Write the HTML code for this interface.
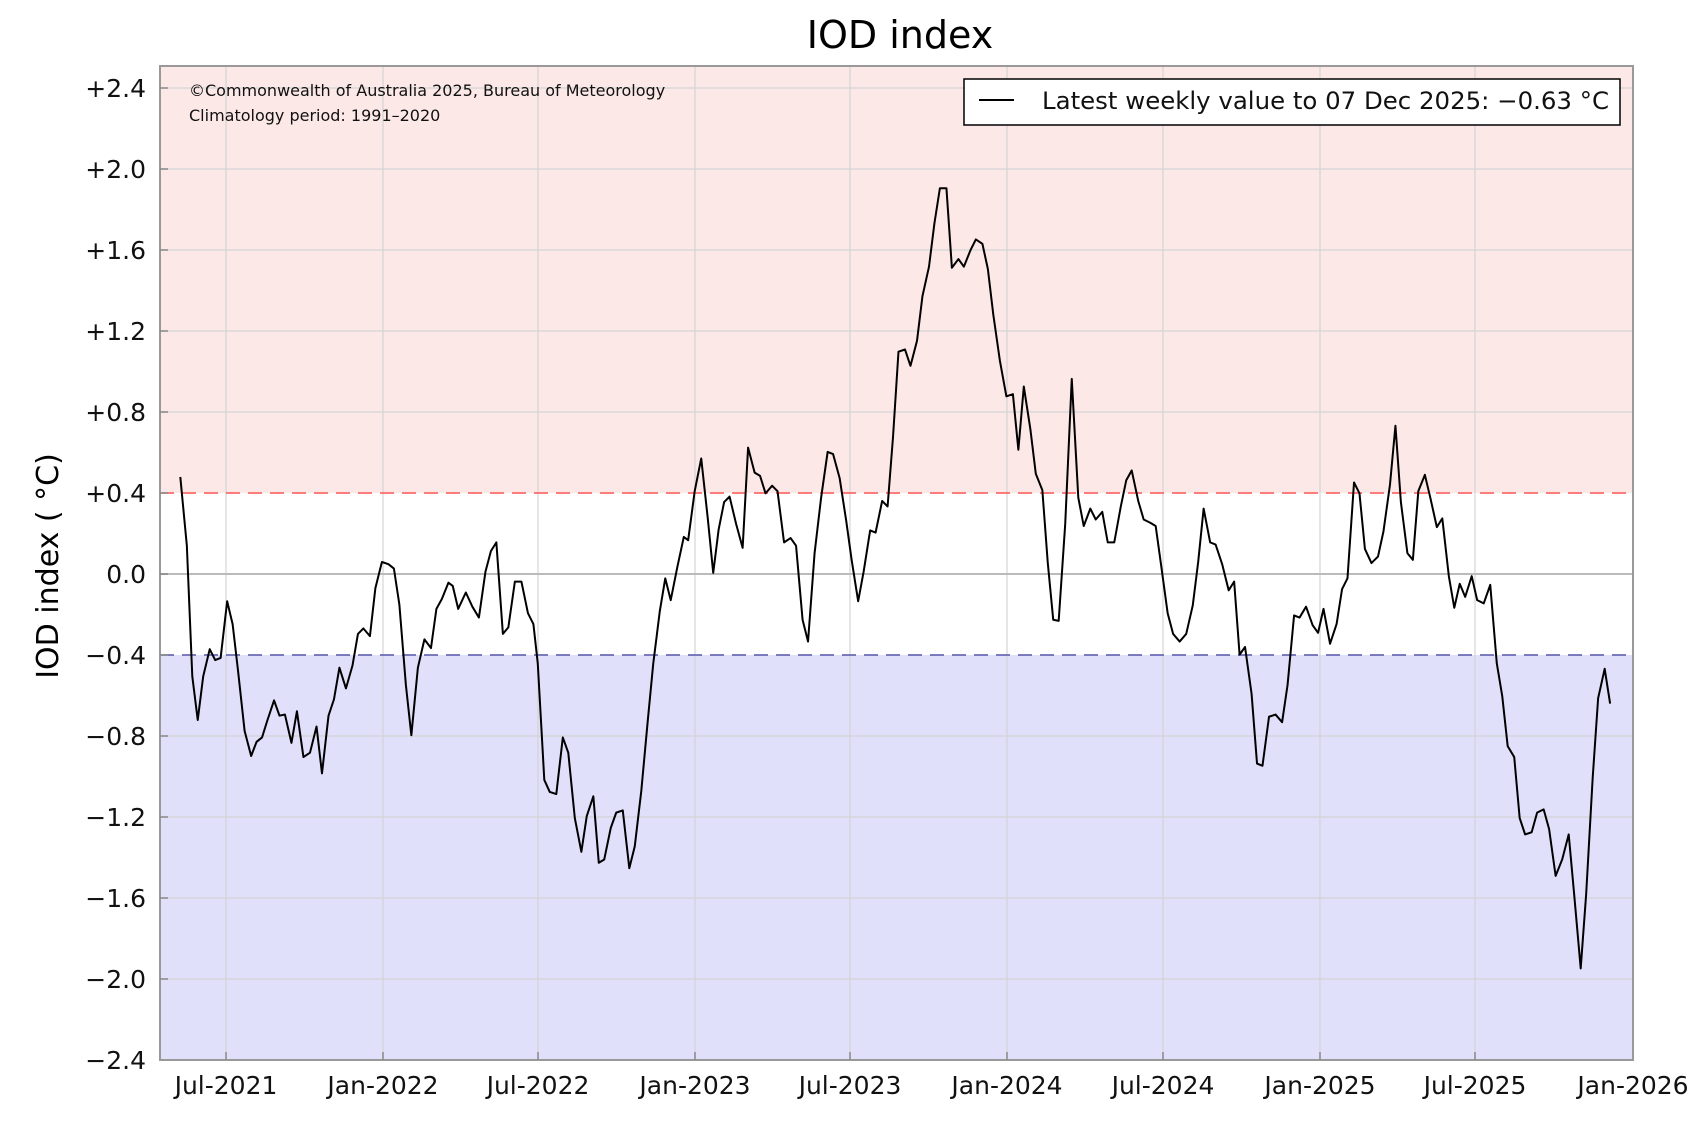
<!DOCTYPE html>
<html><head><meta charset="utf-8"><style>
html,body{margin:0;padding:0;background:#fff;}
svg{display:block;font-family:"DejaVu Sans","Liberation Sans",sans-serif;}
</style></head><body>
<svg width="1708" height="1140" viewBox="0 0 1708 1140" xmlns="http://www.w3.org/2000/svg">
<rect x="0" y="0" width="1708" height="1140" fill="#fff"/>
<rect x="160" y="66" width="1473" height="427" fill="#fde8e8"/>
<rect x="160" y="655" width="1473" height="405" fill="#e0e0fb"/>
<g stroke="#d4d4d4" stroke-width="1.2">
<line x1="226" y1="66" x2="226" y2="1060"/><line x1="383" y1="66" x2="383" y2="1060"/>
<line x1="538" y1="66" x2="538" y2="1060"/><line x1="695" y1="66" x2="695" y2="1060"/>
<line x1="850" y1="66" x2="850" y2="1060"/><line x1="1007" y1="66" x2="1007" y2="1060"/>
<line x1="1163" y1="66" x2="1163" y2="1060"/><line x1="1320" y1="66" x2="1320" y2="1060"/>
<line x1="1475" y1="66" x2="1475" y2="1060"/>
<line x1="160" y1="88" x2="1633" y2="88"/><line x1="160" y1="169" x2="1633" y2="169"/>
<line x1="160" y1="250" x2="1633" y2="250"/><line x1="160" y1="331" x2="1633" y2="331"/>
<line x1="160" y1="412" x2="1633" y2="412"/><line x1="160" y1="736" x2="1633" y2="736"/>
<line x1="160" y1="817" x2="1633" y2="817"/><line x1="160" y1="898" x2="1633" y2="898"/>
<line x1="160" y1="979" x2="1633" y2="979"/>
</g>
<line x1="160" y1="574" x2="1633" y2="574" stroke="#bbb" stroke-width="2"/>
<line x1="160" y1="493" x2="1633" y2="493" stroke="#f55" stroke-width="1.5" stroke-dasharray="14,8"/>
<line x1="160" y1="655" x2="1633" y2="655" stroke="#55a" stroke-width="1.5" stroke-dasharray="14,8"/>
<g transform="matrix(1.0898,0,0,1.0897,-0.6,0.8)">
<polyline fill="none" stroke="#000" stroke-width="2" vector-effect="non-scaling-stroke" stroke-linejoin="round" points="166,437 172,500 177,620 182,660 187,620 193,595 198,605 203,603 209,551 214,572 219,615 225,670 231,693 236,680 241,676 246,660 252,642 257,656 262,655 268,681 273,652 279,694 285,690 291,666 296,709 302,656 307,641 312,612 318,631 324,610 329,581 334,576 340,583 345,539 351,515 357,517 362,521 367,554 373,628 378,674 384,612 390,586 396,594 401,558 406,549 412,534 416,537 421,558 428,543 434,556 440,566 446,524 451,505 456,497 462,581 467,575 473,533 479,533 485,562 490,572 494,608 500,715 505,726 511,728 517,676 522,690 528,750 534,781 539,748 545,730 550,791 555,788 561,759 566,745 572,743 578,796 583,776 589,725 595,660 600,608 606,560 611,530 616,550 622,520 628,492 632,495 638,450 644,420 650,475 655,525 660,485 665,460 670,455 676,480 682,502 687,410 693,433 698,436 703,452 709,445 714,450 720,497 726,493 731,500 737,568 742,588 748,507 754,456 760,414 765,416 771,438 777,477 782,513 788,551 793,524 799,486 804,488 810,459 815,464 820,400 825,322 831,320 836,335 842,312 847,271 853,244 858,204 863,172 869,172 874,245 880,237 885,244 891,229 896,219 902,223 907,246 912,288 918,330 924,363 930,361 935,412 940,354 946,393 951,434 957,449 962,516 967,568 972,569 978,480 984,347 990,456 995,482 1001,466 1006,476 1012,469 1017,497 1023,497 1029,464 1034,440 1039,431 1045,459 1050,476 1056,479 1061,482 1066,518 1072,562 1077,581 1083,588 1089,581 1095,555 1100,515 1105,466 1111,497 1116,499 1122,517 1128,541 1133,533 1138,600 1143,593 1149,636 1154,700 1159,702 1165,657 1171,655 1177,662 1182,628 1188,564 1193,566 1199,556 1205,573 1210,580 1215,558 1221,590 1227,572 1232,540 1237,530 1243,442 1248,452 1253,503 1259,516 1265,510 1270,487 1276,444 1281,390 1286,460 1292,507 1297,513 1302,450 1308,435 1313,456 1319,483 1324,475 1330,528 1335,557 1340,535 1345,547 1351,528 1356,550 1362,553 1368,536 1374,608 1379,638 1384,684 1390,694 1395,750 1400,765 1406,763 1411,745 1417,742 1422,760 1428,803 1434,788 1440,765 1445,820 1451,888 1456,820 1462,713 1467,640 1473,613 1478,645"/>
</g>
<rect x="160" y="66" width="1473" height="994" fill="none" stroke="#999" stroke-width="2"/>
<g stroke="#888" stroke-width="1.5">
<line x1="160" y1="88" x2="168" y2="88"/><line x1="160" y1="169" x2="168" y2="169"/><line x1="160" y1="250" x2="168" y2="250"/>
<line x1="160" y1="331" x2="168" y2="331"/><line x1="160" y1="412" x2="168" y2="412"/><line x1="160" y1="493" x2="168" y2="493"/>
<line x1="160" y1="574" x2="168" y2="574"/><line x1="160" y1="655" x2="168" y2="655"/><line x1="160" y1="736" x2="168" y2="736"/>
<line x1="160" y1="817" x2="168" y2="817"/><line x1="160" y1="898" x2="168" y2="898"/><line x1="160" y1="979" x2="168" y2="979"/>
<line x1="226" y1="1060" x2="226" y2="1052"/><line x1="383" y1="1060" x2="383" y2="1052"/><line x1="538" y1="1060" x2="538" y2="1052"/>
<line x1="695" y1="1060" x2="695" y2="1052"/><line x1="850" y1="1060" x2="850" y2="1052"/><line x1="1007" y1="1060" x2="1007" y2="1052"/>
<line x1="1163" y1="1060" x2="1163" y2="1052"/><line x1="1320" y1="1060" x2="1320" y2="1052"/><line x1="1475" y1="1060" x2="1475" y2="1052"/>
</g>
<g font-size="25" fill="#111" text-anchor="end">
<text x="146" y="97">+2.4</text><text x="146" y="178">+2.0</text><text x="146" y="259">+1.6</text>
<text x="146" y="340">+1.2</text><text x="146" y="421">+0.8</text><text x="146" y="502">+0.4</text>
<text x="146" y="583">0.0</text><text x="146" y="664">−0.4</text><text x="146" y="745">−0.8</text>
<text x="146" y="826">−1.2</text><text x="146" y="907">−1.6</text><text x="146" y="988">−2.0</text>
<text x="146" y="1069">−2.4</text>
</g>
<g font-size="25" fill="#111" text-anchor="middle">
<text x="226" y="1094">Jul-2021</text><text x="383" y="1094">Jan-2022</text><text x="538" y="1094">Jul-2022</text>
<text x="695" y="1094">Jan-2023</text><text x="850" y="1094">Jul-2023</text><text x="1007" y="1094">Jan-2024</text>
<text x="1163" y="1094">Jul-2024</text><text x="1320" y="1094">Jan-2025</text><text x="1475" y="1094">Jul-2025</text>
<text x="1633" y="1094">Jan-2026</text>
</g>
<text x="900" y="48" font-size="38" text-anchor="middle" fill="#000">IOD index</text>
<text transform="translate(58,566) rotate(-90)" font-size="30" text-anchor="middle" fill="#000">IOD index ( °C)</text>
<text x="189" y="96" font-size="16" fill="#111">©Commonwealth of Australia 2025, Bureau of Meteorology</text>
<text x="189" y="121" font-size="16" fill="#111">Climatology period: 1991–2020</text>
<rect x="964" y="79" width="656" height="46" fill="#fff" stroke="#000" stroke-width="1.5"/>
<line x1="979" y1="100" x2="1014" y2="100" stroke="#000" stroke-width="2"/>
<text x="1042" y="109" font-size="24" fill="#111" textLength="567" lengthAdjust="spacingAndGlyphs">Latest weekly value to 07 Dec 2025: −0.63  °C</text>
</svg>
</body></html>
